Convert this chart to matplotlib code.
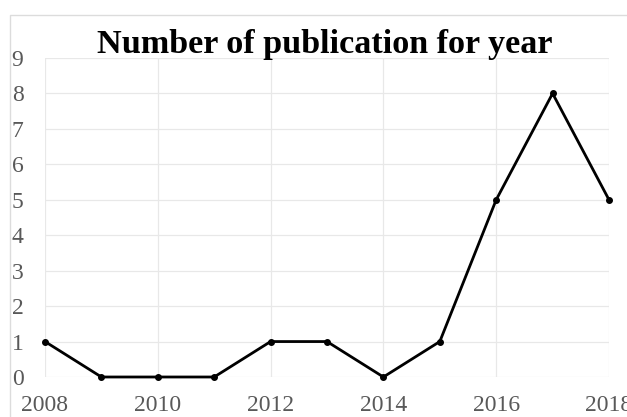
import matplotlib
matplotlib.use("Agg")
import matplotlib.pyplot as plt
from matplotlib.patches import Rectangle

years = [2008, 2009, 2010, 2011, 2012, 2013, 2014, 2015, 2016, 2017, 2018]
counts = [1, 0, 0, 0, 1, 1, 0, 1, 5, 8, 5]
xticks = [2008, 2010, 2012, 2014, 2016, 2018]
yticks = list(range(0, 10))
title = "Number of publication for year"

W, H = 627, 417
fig = plt.figure(figsize=(W / 100, H / 100), dpi=100)
fig.patch.set_facecolor("white")

# outer chart-area border
fig.patches.append(Rectangle((10 / W, -0.1), 1.2, (H - 15) / H + 0.1,
                             transform=fig.transFigure, fill=False,
                             edgecolor="#dcdcdc", linewidth=1.0, zorder=-1))

ax = fig.add_axes([45 / W, (H - 377) / H, (609 - 45) / W, (377 - 58) / H])
ax.plot(years, counts, color="black", linewidth=2, marker="o", markersize=4,
        zorder=3, clip_on=False)
ax.set_xlim(2008, 2018)
ax.set_ylim(0, 9)
ax.set_xticks(xticks)
ax.set_yticks(yticks)
ax.grid(True, color="#e8e8e8", linewidth=0.9)
ax.set_axisbelow(True)
for s in ax.spines.values():
    s.set_visible(False)
ax.tick_params(length=0, labelcolor="#595959", labelsize=17)
ax.tick_params(axis="y", pad=15.5)
ax.tick_params(axis="x", pad=13)
for lab in ax.get_xticklabels() + ax.get_yticklabels():
    lab.set_fontfamily("Liberation Serif")

fig.text(325 / W, 1 - 45 / H, title, ha="center", va="center",
         fontfamily="Liberation Serif", fontweight="bold", fontsize=24.6,
         color="black")

fig.savefig("out.png", dpi=100)
